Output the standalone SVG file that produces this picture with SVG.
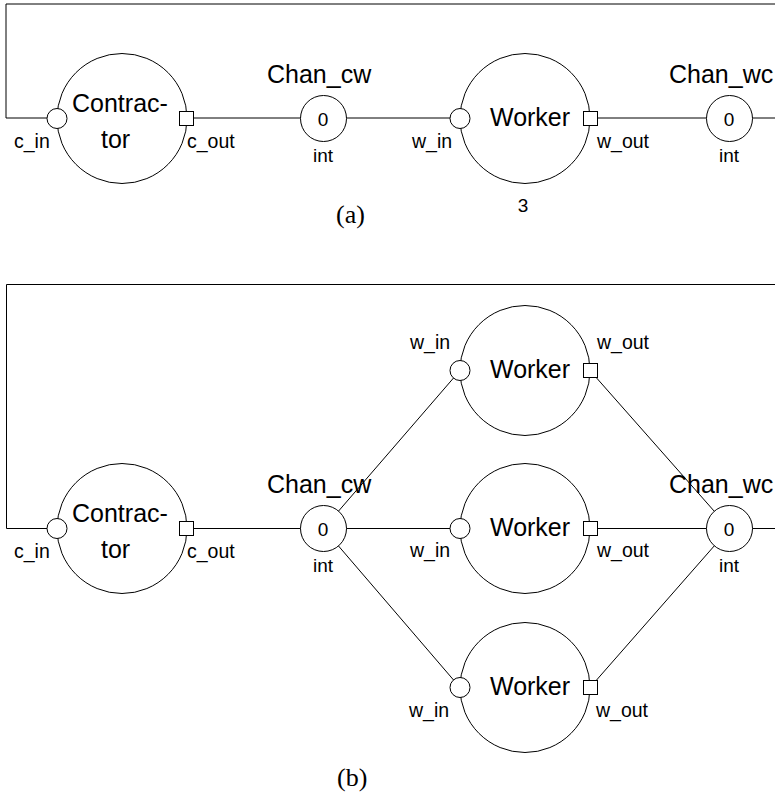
<svg xmlns="http://www.w3.org/2000/svg" width="775" height="796" viewBox="0 0 775 796">
  <style>
    .wire { fill: none; stroke: #000; stroke-width: 1; }
    .proc { fill: #fff; stroke: #000; stroke-width: 1; }
    .chan { fill: #fff; stroke: #000; stroke-width: 1; }
    .inport { fill: #fff; stroke: #000; stroke-width: 1; }
    .outport { fill: #fff; stroke: #000; stroke-width: 1; }
    .big { font-family: "Liberation Sans", Arial, sans-serif; font-size: 25px; fill: #000; }
    .small { font-family: "Liberation Sans", Arial, sans-serif; font-size: 19.5px; fill: #000; }
    .val { font-family: "Liberation Sans", Arial, sans-serif; font-size: 19px; fill: #000; text-anchor: middle; }
    .caption { font-family: "Liberation Serif", "Times New Roman", serif; font-size: 26px; fill: #000; }
  </style>

  <!-- ===== (a) single replicated worker ===== -->
  <g id="connectors-a">
    <polyline class="wire" points="775,4 6,4 6,118 57,118"/>
    <line class="wire" x1="186" y1="118" x2="323" y2="118"/>
    <line class="wire" x1="323" y1="118" x2="460" y2="118"/>
    <line class="wire" x1="590" y1="118" x2="729" y2="118"/>
    <line class="wire" x1="729" y1="118" x2="775" y2="118"/>
  </g>

  <g id="contractor-a">
    <circle class="proc" cx="122" cy="118.5" r="65"/>
    <circle class="inport" cx="57" cy="118.5" r="10"/>
    <rect class="outport" x="179.5" y="111.5" width="14" height="14"/>
    <text class="big" x="72" y="112">Contrac-</text>
    <text class="big" x="101" y="148">tor</text>
    <text class="small" x="14" y="148">c_in</text>
    <text class="small" x="187" y="148">c_out</text>
  </g>

  <g id="chan-cw-a">
    <circle class="chan" cx="323.5" cy="118.5" r="23"/>
    <text class="val" x="323" y="126">0</text>
    <text class="big" x="267" y="83">Chan_cw</text>
    <text class="val" x="323" y="162">int</text>
  </g>

  <g id="worker-a">
    <circle class="proc" cx="525" cy="118.5" r="65"/>
    <circle class="inport" cx="460" cy="118.5" r="10"/>
    <rect class="outport" x="583.5" y="111.5" width="14" height="14"/>
    <text class="big" x="490" y="126">Worker</text>
    <text class="small" x="412" y="148">w_in</text>
    <text class="small" x="597" y="148">w_out</text>
    <text class="val" x="523" y="212">3</text>
  </g>

  <g id="chan-wc-a">
    <circle class="chan" cx="729.5" cy="118.5" r="23"/>
    <text class="val" x="729" y="126">0</text>
    <text class="big" x="669" y="83">Chan_wc</text>
    <text class="val" x="729" y="162">int</text>
  </g>

  <text class="caption" x="336" y="223">(a)</text>

  <!-- ===== (b) three explicit workers ===== -->
  <g id="connectors-b">
    <polyline class="wire" points="775,284.5 6.5,284.5 6.5,528.5 57,528.5"/>
    <line class="wire" x1="186" y1="528.5" x2="323.5" y2="528.5"/>
    <line class="wire" x1="323.5" y1="528.5" x2="460" y2="370.5"/>
    <line class="wire" x1="323.5" y1="528.5" x2="460" y2="528.5"/>
    <line class="wire" x1="323.5" y1="528.5" x2="460" y2="687.5"/>
    <line class="wire" x1="590" y1="370.5" x2="729.5" y2="528.5"/>
    <line class="wire" x1="590" y1="528.5" x2="729.5" y2="528.5"/>
    <line class="wire" x1="590" y1="687.5" x2="729.5" y2="528.5"/>
    <line class="wire" x1="729.5" y1="528.5" x2="775" y2="528.5"/>
  </g>

  <g id="contractor-b">
    <circle class="proc" cx="122" cy="528.5" r="65"/>
    <circle class="inport" cx="57" cy="528.5" r="10"/>
    <rect class="outport" x="179.5" y="521.5" width="14" height="14"/>
    <text class="big" x="72" y="522">Contrac-</text>
    <text class="big" x="101" y="558">tor</text>
    <text class="small" x="14" y="558">c_in</text>
    <text class="small" x="187" y="558">c_out</text>
  </g>

  <g id="chan-cw-b">
    <circle class="chan" cx="323.5" cy="528.5" r="23"/>
    <text class="val" x="323" y="536">0</text>
    <text class="big" x="267" y="493">Chan_cw</text>
    <text class="val" x="323" y="572">int</text>
  </g>

  <g id="worker-b1">
    <circle class="proc" cx="525" cy="370.5" r="65"/>
    <circle class="inport" cx="460" cy="370.5" r="10"/>
    <rect class="outport" x="583.5" y="363.5" width="14" height="14"/>
    <text class="big" x="490" y="378">Worker</text>
    <text class="small" x="410" y="349">w_in</text>
    <text class="small" x="597" y="349">w_out</text>
  </g>

  <g id="worker-b2">
    <circle class="proc" cx="525" cy="528.5" r="65"/>
    <circle class="inport" cx="460" cy="528.5" r="10"/>
    <rect class="outport" x="583.5" y="521.5" width="14" height="14"/>
    <text class="big" x="490" y="536">Worker</text>
    <text class="small" x="410" y="557">w_in</text>
    <text class="small" x="597" y="557">w_out</text>
  </g>

  <g id="worker-b3">
    <circle class="proc" cx="525" cy="687.5" r="65"/>
    <circle class="inport" cx="460" cy="687.5" r="10"/>
    <rect class="outport" x="583.5" y="680.5" width="14" height="14"/>
    <text class="big" x="490" y="695">Worker</text>
    <text class="small" x="409" y="717">w_in</text>
    <text class="small" x="596" y="717">w_out</text>
  </g>

  <g id="chan-wc-b">
    <circle class="chan" cx="729.5" cy="528.5" r="23"/>
    <text class="val" x="729" y="536">0</text>
    <text class="big" x="669" y="493">Chan_wc</text>
    <text class="val" x="729" y="572">int</text>
  </g>

  <text class="caption" x="337" y="786">(b)</text>
</svg>
